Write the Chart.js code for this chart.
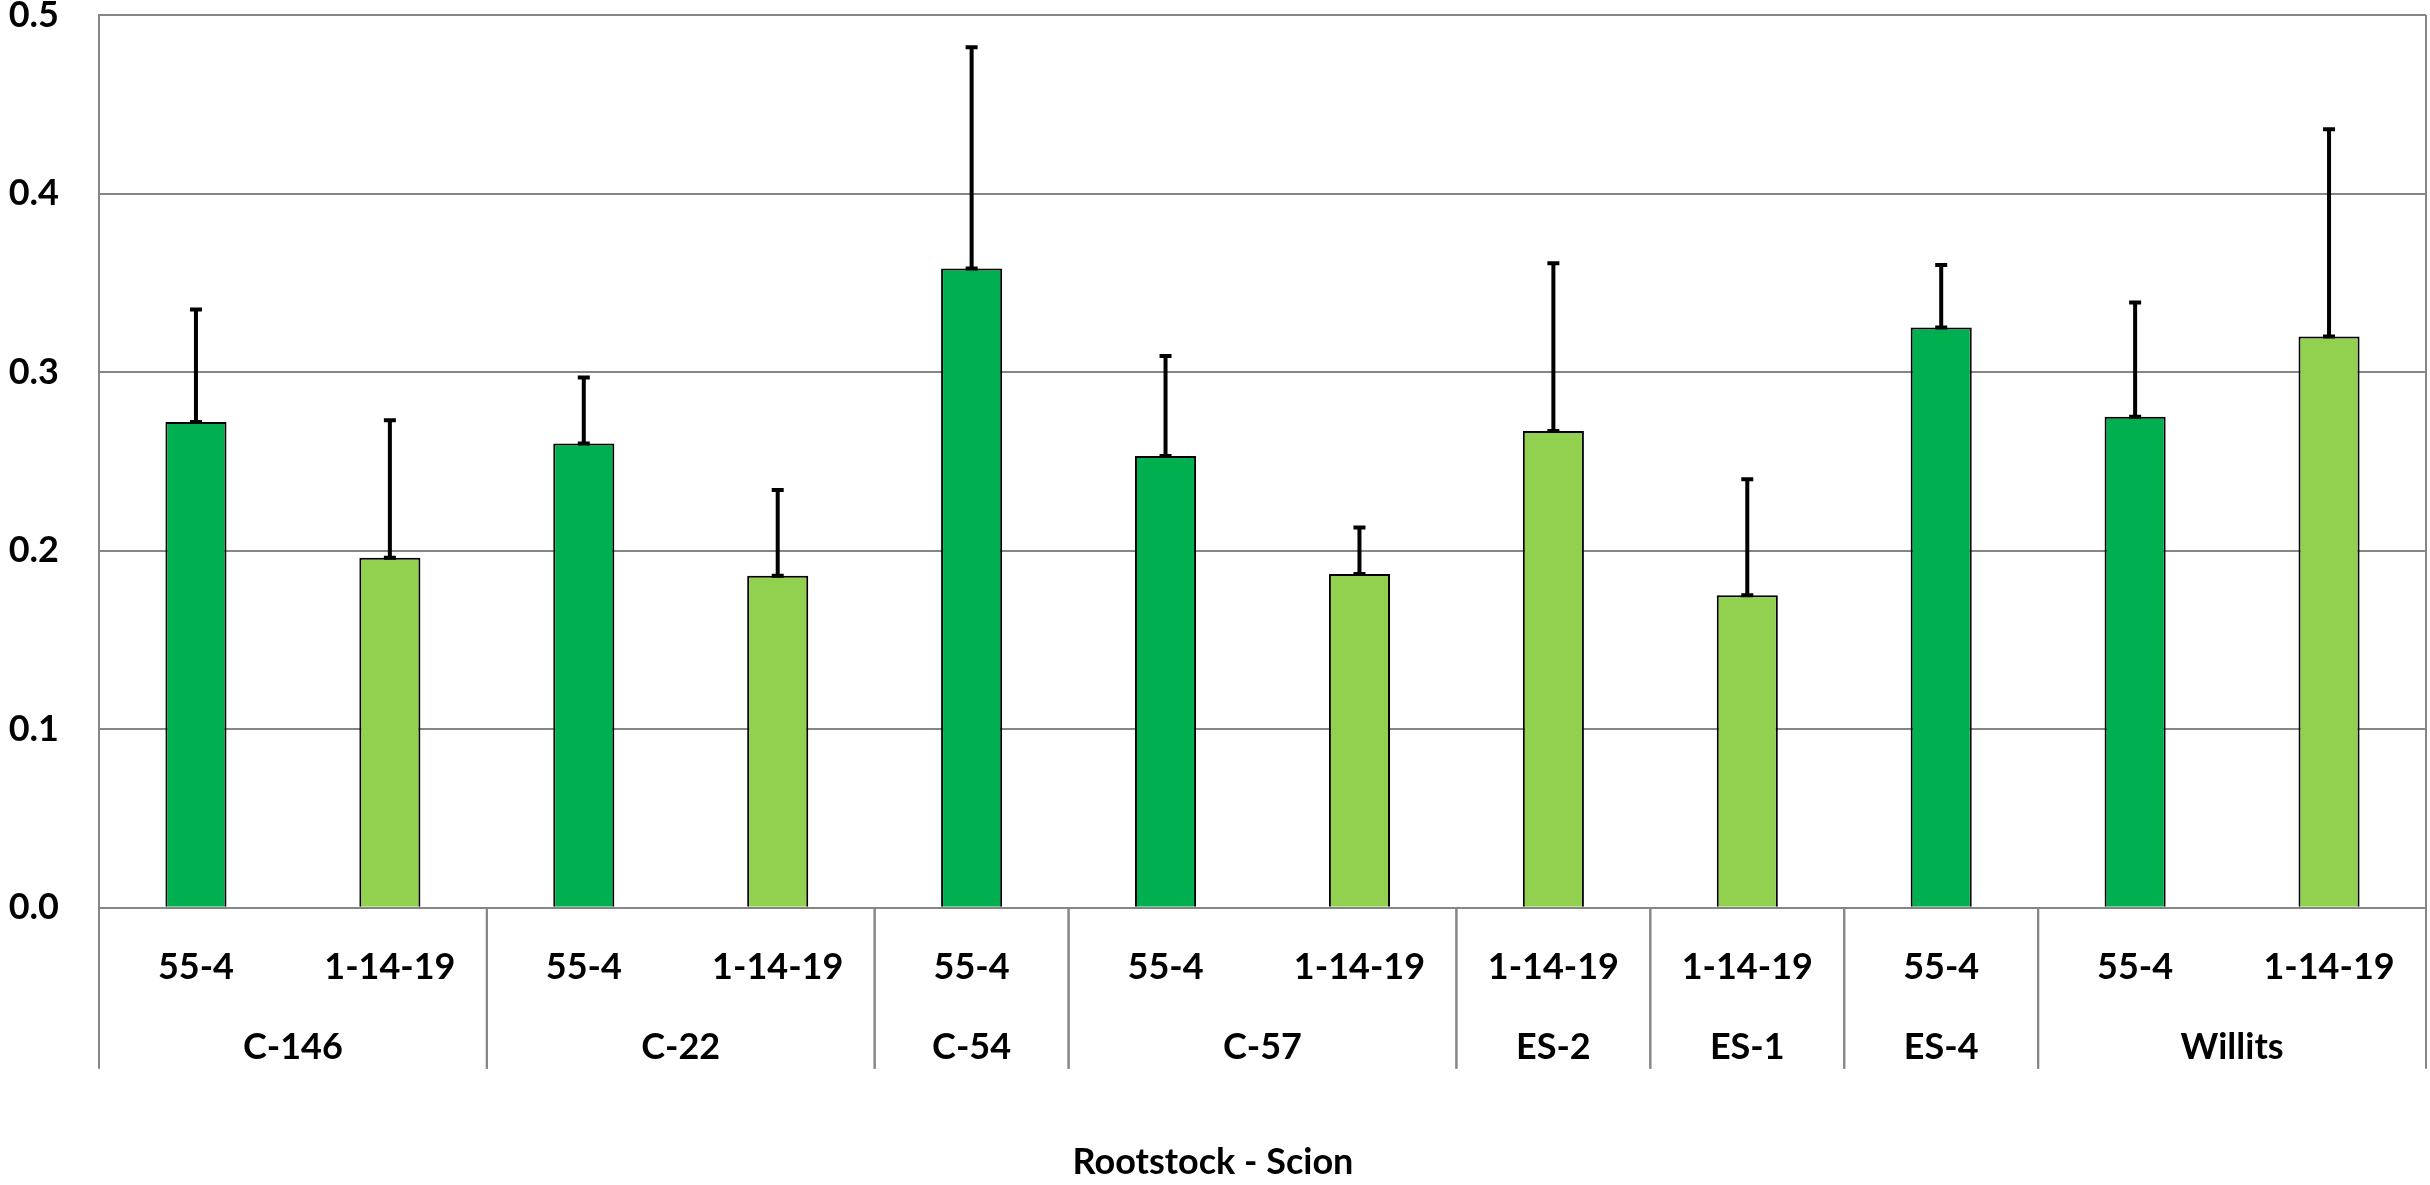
<!DOCTYPE html>
<html>
<head>
<meta charset="utf-8">
<script src="https://cdn.jsdelivr.net/npm/chart.js@4.4.1/dist/chart.umd.min.js"></script>
<style>
  html, body { margin: 0; padding: 0; background: #fff; }
  #wrap { width: 2430px; height: 1185px; }
</style>
</head>
<body>
<div id="wrap"><canvas id="rootChart"></canvas></div>
<script>
// rootstock (group) and scion for every bar
const rootstocks = ['C-146', 'C-146', 'C-22', 'C-22', 'C-54', 'C-57', 'C-57', 'ES-2', 'ES-1', 'ES-4', 'Willits', 'Willits'];
const scions = ['55-4', '1-14-19', '55-4', '1-14-19', '55-4', '55-4', '1-14-19', '1-14-19', '1-14-19', '55-4', '55-4', '1-14-19'];
const means = [0.272, 0.196, 0.260, 0.186, 0.358, 0.253, 0.187, 0.267, 0.175, 0.325, 0.275, 0.320];
const errPlus = [0.063, 0.077, 0.037, 0.048, 0.124, 0.056, 0.026, 0.094, 0.065, 0.035, 0.064, 0.116];
const yTicks = [0, 0.1, 0.2, 0.3, 0.4, 0.5];

const scionColors = { '55-4': '#00B050', '1-14-19': '#92D050' };
const gridColor = '#868686';
const FONT = 'Lato, "Open Sans", sans-serif';

// error bars, drawn on top of the bars
const errorBars = {
	id: 'errorBars',
	afterDatasetsDraw(chart) {
		const ctx = chart.ctx;
		const yScale = chart.scales.y;
		const meta = chart.getDatasetMeta(0);
		ctx.save();
		ctx.strokeStyle = '#000';
		ctx.lineWidth = 4;
		meta.data.forEach(function (bar, i) {
			const yBase = yScale.getPixelForValue(means[i]);
			const yTop = yScale.getPixelForValue(means[i] + errPlus[i]);
			ctx.beginPath();
			ctx.moveTo(bar.x, yBase);
			ctx.lineTo(bar.x, yTop);
			ctx.moveTo(bar.x - 6, yTop);
			ctx.lineTo(bar.x + 6, yTop);
			ctx.moveTo(bar.x - 6, yBase);
			ctx.lineTo(bar.x + 6, yBase);
			ctx.stroke();
		});
		ctx.restore();
	}
};

// rootstock row of the category axis + separators
const groupAxis = {
	id: 'groupAxis',
	afterDraw(chart) {
		const ctx = chart.ctx;
		const xScale = chart.scales.x;
		const area = chart.chartArea;
		const lineBottom = area.bottom + 161;
		const half = (xScale.getPixelForValue(1) - xScale.getPixelForValue(0)) / 2;

		ctx.save();
		ctx.strokeStyle = gridColor;
		ctx.lineWidth = 2;
		// right border of the plot
		ctx.beginPath();
		ctx.moveTo(area.right, area.top);
		ctx.lineTo(area.right, area.bottom);
		ctx.stroke();

		ctx.fillStyle = '#000';
		ctx.font = 'bold 36px ' + FONT;
		ctx.textAlign = 'center';
		ctx.textBaseline = 'middle';

		let start = 0;
		for (let i = 1; i <= rootstocks.length; i++) {
			if (i === rootstocks.length || rootstocks[i] !== rootstocks[start]) {
				const x0 = xScale.getPixelForValue(start) - half;
				const x1 = xScale.getPixelForValue(i - 1) + half;
				ctx.beginPath();
				ctx.moveTo(x0, area.bottom);
				ctx.lineTo(x0, lineBottom);
				ctx.moveTo(x1, area.bottom);
				ctx.lineTo(x1, lineBottom);
				ctx.stroke();
				ctx.fillText(rootstocks[start], (x0 + x1) / 2, area.bottom + 140);
				start = i;
			}
		}
		ctx.restore();
	}
};

new Chart(document.getElementById('rootChart'), {
	type: 'bar',
	data: {
		labels: scions,
		datasets: [{
			data: means,
			backgroundColor: scions.map(s => scionColors[s]),
			borderColor: '#000',
			borderWidth: 2,
			barPercentage: 1,
			categoryPercentage: 0.315
		}]
	},
	options: {
		responsive: true,
		maintainAspectRatio: false,
		animation: false,
		layout: { padding: { top: 15, right: 4, left: 0, bottom: 0 } },
		plugins: {
			legend: { display: false },
			tooltip: { enabled: false },
			title: {
				display: true,
				position: 'bottom',
				text: 'Rootstock - Scion',
				color: '#000',
				font: { family: FONT, size: 36, weight: 'bold' },
				padding: { top: 0, bottom: 1 }
			}
		},
		scales: {
			x: {
				grid: { display: false, drawTicks: false },
				border: { display: true, color: gridColor, width: 2 },
				ticks: {
					color: '#000',
					padding: 38,
					maxRotation: 0,
					autoSkip: false,
					font: { family: FONT, size: 36, weight: 'bold' }
				},
				afterFit(scale) {
					scale.height = 233;
					scale.paddingLeft = 0;
					scale.paddingRight = 0;
				}
			},
			y: {
				min: 0,
				max: 0.5,
				afterBuildTicks(scale) { scale.ticks = yTicks.map(v => ({ value: v })); },
				grid: { color: gridColor, lineWidth: 2, drawTicks: false },
				border: { display: true, color: gridColor, width: 2 },
				ticks: {
					color: '#000',
					padding: 40,
					font: { family: FONT, size: 36, weight: 'bold' },
					callback: v => v.toFixed(1)
				},
				afterFit(scale) {
					scale.width = 99;
					scale.paddingTop = 0;
					scale.paddingBottom = 0;
				}
			}
		}
	},
	plugins: [errorBars, groupAxis]
});
</script>
</body>
</html>
